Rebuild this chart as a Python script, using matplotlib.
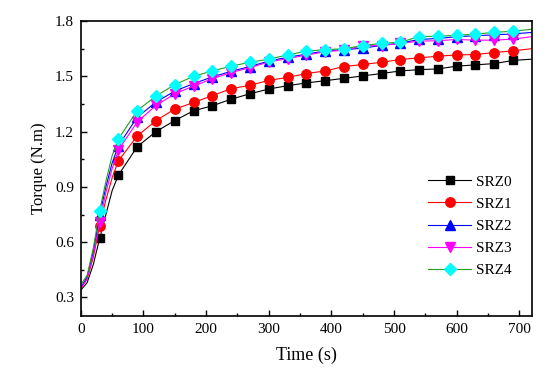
import numpy as np
import matplotlib
matplotlib.use('Agg')
import matplotlib.pyplot as plt
from matplotlib.ticker import MultipleLocator

plt.rcParams['font.family'] = ['Liberation Serif', 'DejaVu Serif']

# marker times (s) and torque (N.m)
t_mark = [30, 60, 90, 120, 150, 180, 210, 240, 270, 300, 330, 360,
          390, 420, 450, 480, 510, 540, 570, 600, 630, 660, 690]

srz0 = [0.62, 0.964, 1.118, 1.20, 1.26, 1.313, 1.34, 1.376, 1.405, 1.431, 1.449, 1.464,
        1.476, 1.489, 1.502, 1.515, 1.529, 1.536, 1.540, 1.555, 1.562, 1.569, 1.586]
srz1 = [0.69, 1.042, 1.176, 1.26, 1.322, 1.358, 1.395, 1.433, 1.451, 1.478, 1.494, 1.515,
        1.529, 1.553, 1.564, 1.576, 1.591, 1.600, 1.609, 1.616, 1.618, 1.629, 1.638]
srz2 = [0.745, 1.124, 1.278, 1.36, 1.42, 1.46, 1.497, 1.527, 1.553, 1.583, 1.603, 1.62,
        1.638, 1.645, 1.652, 1.668, 1.680, 1.700, 1.705, 1.715, 1.720, 1.725, 1.730]
srz3 = [0.71, 1.10, 1.252, 1.342, 1.405, 1.447, 1.487, 1.52, 1.547, 1.578, 1.596, 1.615,
        1.633, 1.642, 1.665, 1.667, 1.678, 1.691, 1.693, 1.700, 1.696, 1.696, 1.702]
srz4 = [0.769, 1.16, 1.314, 1.393, 1.455, 1.50, 1.529, 1.555, 1.576, 1.593, 1.616, 1.636,
        1.645, 1.649, 1.667, 1.678, 1.685, 1.715, 1.718, 1.722, 1.729, 1.738, 1.745]

# extra points on the lines (start of test and end of record)
t_start = [0, 10, 20]
t_mid = [40, 50]
t_end = [720]
start = {'SRZ0': [0.34, 0.38, 0.48], 'SRZ1': [0.35, 0.40, 0.52], 'SRZ2': [0.355, 0.41, 0.55],
         'SRZ3': [0.35, 0.40, 0.53], 'SRZ4': [0.37, 0.42, 0.57]}
mid = {'SRZ0': [0.75, 0.88], 'SRZ1': [0.83, 0.95], 'SRZ2': [0.90, 1.03],
       'SRZ3': [0.87, 1.00], 'SRZ4': [0.93, 1.07]}
end = {'SRZ0': [1.593], 'SRZ1': [1.65], 'SRZ2': [1.738], 'SRZ3': [1.715], 'SRZ4': [1.755]}

names = ['SRZ0', 'SRZ1', 'SRZ2', 'SRZ3', 'SRZ4']
series = [srz0, srz1, srz2, srz3, srz4]
line_colors = ['black', 'red', 'blue', 'magenta', '#22a022']
face_colors = ['black', 'red', 'blue', 'magenta', 'cyan']
markers = ['s', 'o', '^', 'v', 'D']
msizes = [6, 6.8, 7, 7, 6.5]

fig = plt.figure(figsize=(5.5, 3.89), dpi=100)
ax = fig.add_axes([0.147, 0.188, 0.820, 0.758])

for name, vals, lc, fc, mk, ms in zip(names, series, line_colors, face_colors, markers, msizes):
    t = t_start + [t_mark[0]] + t_mid + t_mark[1:] + t_end
    y = start[name] + [vals[0]] + mid[name] + vals[1:] + end[name]
    if name == 'SRZ4':
        t = [0] + t
        y = [0.0] + y
    mark_idx = [i for i, tt in enumerate(t) if tt in t_mark]
    ax.plot(t, y, color=lc, lw=0.8, marker=mk, markevery=mark_idx, ms=ms,
            markerfacecolor=fc, markeredgecolor=fc, label=name, clip_on=True)

ax.set_xlim(0, 720)
ax.set_ylim(0.2, 1.8)
ax.xaxis.set_major_locator(MultipleLocator(100))
ax.xaxis.set_minor_locator(MultipleLocator(50))
ax.yaxis.set_major_locator(MultipleLocator(0.3))
ax.yaxis.set_minor_locator(MultipleLocator(0.15))
ax.set_yticks([0.3, 0.6, 0.9, 1.2, 1.5, 1.8])
ax.tick_params(axis='both', which='both', direction='in', labelsize=11, pad=5)
ax.tick_params(which='major', length=4, width=1)
ax.tick_params(which='minor', length=2.5, width=1)
for s in ax.spines.values():
    s.set_linewidth(1.2)

ax.set_xlabel('Time (s)', fontsize=13, labelpad=8)
ax.set_ylabel('Torque (N.m)', fontsize=12, labelpad=6)

ax.legend(loc='lower right', frameon=False, fontsize=11, handlelength=2.8,
          labelspacing=0.55, bbox_to_anchor=(0.985, 0.085), handletextpad=0.3)

fig.savefig('out.png', dpi=100)
